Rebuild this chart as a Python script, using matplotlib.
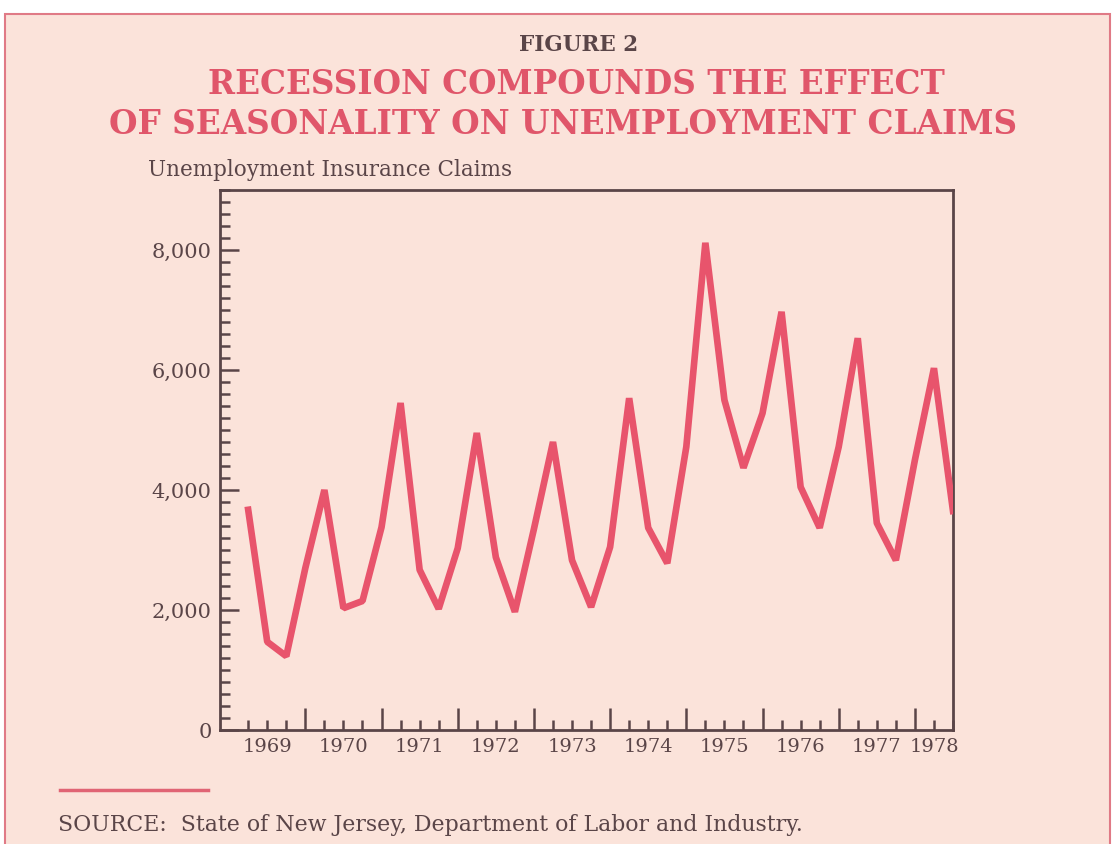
import numpy as np
import matplotlib
matplotlib.use('Agg')
import matplotlib.pyplot as plt
from matplotlib.patches import Rectangle
from matplotlib.ticker import MultipleLocator, FixedLocator, NullFormatter, FuncFormatter

# Quarterly unemployment insurance claims (1969 Q1 .. 1978 Q2)
quarters = np.arange(1969.25, 1978.51, 0.25)
claims = [3670, 1470, 1230, 2700, 4000, 2030, 2150, 3380, 5450, 2670,
          2020, 3030, 4950, 2880, 1970, 3350, 4800, 2830, 2050, 3050,
          5530, 3370, 2780, 4720, 8120, 5500, 4370, 5280, 6970, 4050,
          3370, 4720, 6530, 3450, 2830, 4500, 6030, 3650]

years = [1969, 1970, 1971, 1972, 1973, 1974, 1975, 1976, 1977, 1978]
year_label_pos = [1969.5, 1970.5, 1971.5, 1972.5, 1973.5, 1974.5, 1975.5, 1976.5, 1977.5, 1978.25]

bg = '#fbe3da'
red = '#e8546c'
ink = '#5a4548'
serif = 'DejaVu Serif'

W, H = 1115, 844
fig = plt.figure(figsize=(W / 100, H / 100), dpi=100)
fig.patch.set_facecolor('white')

def fx(x):
    return x / W

def fy(y):
    return 1 - y / H

# page background and border
fig.patches.append(Rectangle((fx(5), fy(850)), fx(1110) - fx(5), fy(14) - fy(850),
                             transform=fig.transFigure, facecolor=bg,
                             edgecolor='#e07a86', linewidth=1.5, zorder=-5))

ax = fig.add_axes([fx(220), fy(730), fx(953) - fx(220), fy(190) - fy(730)])
ax.set_zorder(2)
ax.set_facecolor(bg)
ax.plot(quarters, claims, color=red, linewidth=4.8, solid_joinstyle='bevel', zorder=3)

ax.set_xlim(1968.88, 1978.5)
ax.set_ylim(0, 9000)

for s in ax.spines.values():
    s.set_color(ink)
    s.set_linewidth(2)

ax.yaxis.set_major_locator(MultipleLocator(2000))
ax.yaxis.set_minor_locator(MultipleLocator(200))
ax.yaxis.set_major_formatter(FuncFormatter(lambda v, p: f'{int(v):,}'))
ax.xaxis.set_major_locator(FixedLocator(years[1:]))
ax.xaxis.set_minor_locator(FixedLocator([q for q in quarters if abs(q - round(q)) > 0.01]))
ax.xaxis.set_major_formatter(NullFormatter())

ax.tick_params(axis='both', which='both', direction='in', color=ink, width=1.8)
ax.tick_params(axis='y', which='major', length=14, pad=6, labelsize=15, labelcolor=ink)
ax.tick_params(axis='y', which='minor', length=7)
ax.tick_params(axis='x', which='major', length=16)
ax.tick_params(axis='x', which='minor', length=7)
for lab in ax.get_yticklabels():
    lab.set_family(serif)

for pos, yr in zip(year_label_pos, years):
    ax.text(pos, -0.015, str(yr), transform=ax.get_xaxis_transform(),
            ha='center', va='top', fontsize=14, color=ink, family=serif)

fig.text(fx(579), fy(45), 'FIGURE 2', ha='center', va='center',
         fontsize=15.5, fontweight='bold', color=ink, family=serif)
fig.text(fx(576), fy(85), 'RECESSION COMPOUNDS THE EFFECT', ha='center', va='center',
         fontsize=23.5, fontweight='bold', color='#e0566a', family=serif)
fig.text(fx(563), fy(125), 'OF SEASONALITY ON UNEMPLOYMENT CLAIMS', ha='center', va='center',
         fontsize=23.6, fontweight='bold', color='#e0566a', family=serif)
fig.text(fx(148), fy(170), 'Unemployment Insurance Claims', ha='left', va='center',
         fontsize=15.5, color=ink, family=serif)

fig.lines.append(plt.Line2D([fx(60), fx(208)], [fy(790), fy(790)], transform=fig.transFigure,
                            color='#e06474', linewidth=2.5))
fig.text(fx(58), fy(825), 'SOURCE:  State of New Jersey, Department of Labor and Industry.',
         ha='left', va='center', fontsize=15.8, color=ink, family=serif)

fig.savefig('out.png', dpi=100, facecolor=fig.get_facecolor())
